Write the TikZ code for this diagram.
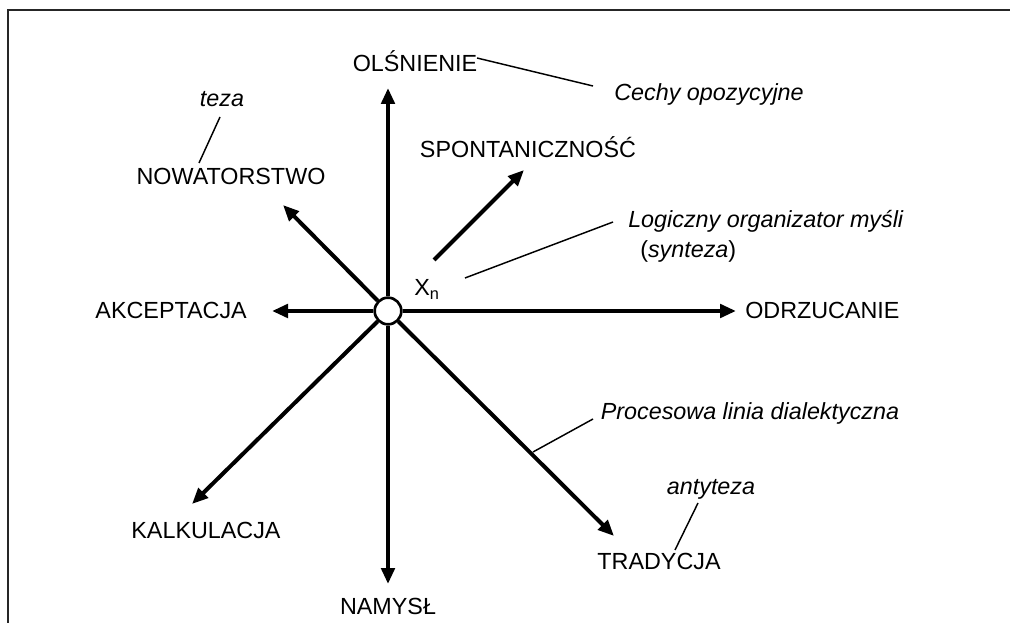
\documentclass[tikz,border=0pt]{standalone}
\usepackage{fontspec}
\setmainfont{Liberation Sans}
\usetikzlibrary{arrows.meta}
\begin{document}
\begin{tikzpicture}[x=0.75pt,y=-0.75pt,
  lbl/.style={inner sep=0pt,anchor=base,font=\fontsize{17.5}{20}\selectfont},
  ilbl/.style={lbl,font=\fontsize{17.5}{20}\selectfont\itshape},
  axis/.style={line width=3pt,-{Triangle[length=12pt,width=10pt]}},
  thin/.style={line width=1.1pt}]
\useasboundingbox (0,0) rectangle (1010,623);
\begin{scope}
\clip (0,0) rectangle (1010,623);
\draw[line width=1.8pt,draw=black!85] (8,10) rectangle (1030,650);
\end{scope}
% centre
\node[circle,draw,line width=2pt,fill=white,minimum size=20pt,inner sep=0pt] (c) at (388,311) {};
% arrow tips
\coordinate (tN) at (388,88);
\coordinate (tS) at (388,584);
\coordinate (tW) at (272,311);
\coordinate (tE) at (736,311);
\coordinate (tNW) at (283,205);
\coordinate (tSW) at (192,504);
\coordinate (tSE) at (614,536);
\coordinate (sp0) at (434,260);
\coordinate (sp1) at (524,170);
% labels
\node[lbl] (ols) at (415,72) {OLŚNIENIE};
\node[ilbl] (cech) at (709,101) {Cechy opozycyjne};
\node[ilbl] (teza) at (222,107) {teza};
\node[lbl] (now) at (231,185) {NOWATORSTWO};
\node[lbl] (spo) at (528,158) {SPONTANICZNOŚĆ};
\node[ilbl,anchor=base west] (log) at (628,228) {Logiczny organizator myśli};
\node[lbl,anchor=base west] (syn) at (640,258) {(\textit{synteza})};
\node[lbl,anchor=base west] (xn) at (414,296) {X\textsubscript{n}};
\node[lbl,anchor=base east] (akc) at (247,319) {AKCEPTACJA};
\node[lbl,anchor=base west] (odr) at (745,319) {ODRZUCANIE};
\node[ilbl] (pro) at (750,420) {Procesowa linia dialektyczna};
\node[ilbl] (ant) at (711,494) {antyteza};
\node[lbl] (tra) at (659,569) {TRADYCJA};
\node[lbl] (kal) at (206,538) {KALKULACJA};
\node[lbl] (nam) at (388,614) {NAMYSŁ};
% axes
\draw[axis] (c.north) -- (tN);
\draw[axis] (c.south) -- (tS);
\draw[axis] (c.west) -- (tW);
\draw[axis] (c.east) -- (tE);
\draw[axis] (c.north west) -- (tNW);
\draw[axis] (c.south west) -- (tSW);
\draw[axis] (c.south east) -- (tSE);
\draw[axis] (sp0) -- (sp1);
% callout lines
\coordinate (o1) at (477,58);
\coordinate (o2) at (593,86);
\draw[thin] (o1) -- (o2);
\coordinate (t1) at (220,117);
\coordinate (t2) at (199,163);
\draw[thin] (t1) -- (t2);
\coordinate (l1) at (465,278);
\coordinate (l2) at (613,222);
\draw[thin] (l1) -- (l2);
\coordinate (p1) at (533,452);
\coordinate (p2) at (593,419);
\draw[thin] (p1) -- (p2);
\coordinate (a1) at (698,503);
\coordinate (a2) at (675,550);
\draw[thin] (a1) -- (a2);
\end{tikzpicture}
\end{document}
